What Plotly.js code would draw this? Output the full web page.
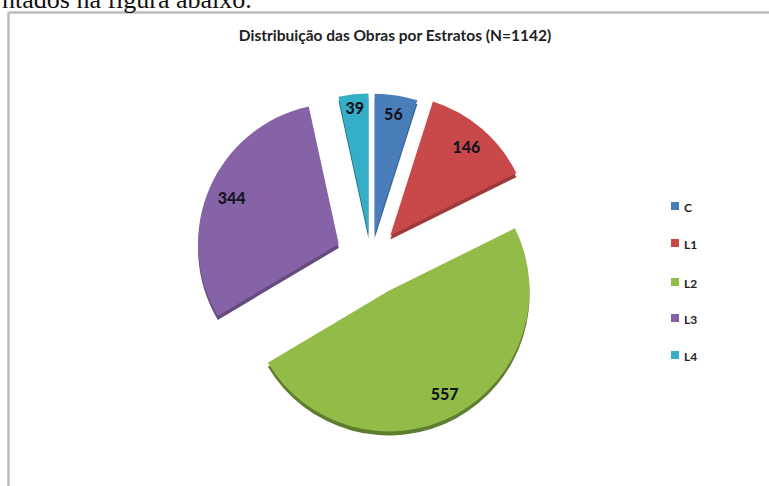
<!DOCTYPE html>
<html>
<head>
<meta charset="utf-8">
<script src="https://cdn.plot.ly/plotly-3.0.1.min.js"></script>
<style>html,body{margin:0;padding:0;background:#fff;overflow:hidden}#chart{width:769px;height:486px}</style>
</head>
<body>
<div id="chart"></div>
<script>
// Distribution of works by stratum
const categories = ['C', 'L1', 'L2', 'L3', 'L4'];
const counts = [56, 146, 557, 344, 39];
const explode = [0.17, 0.21, 0.265, 0.25, 0.17];
const faceColors = ['#4a7ebb', '#c9494a', '#92bb47', '#8663a6', '#35aec8'];
const sideColors = ['#3a6496', '#9e3a3a', '#5f7d2e', '#664b80', '#1f6f80'];
const noFill = categories.map(() => 'rgba(0,0,0,0)');

const W = 769, H = 486;
const cx = 371, cy = 258, half = 178;

function pieTrace(colors, dy, hole, showText) {
  return {
    type: 'pie', labels: categories, values: counts, sort: false,
    direction: 'clockwise', rotation: 0, pull: explode, hole: hole,
    marker: {colors: colors, line: {width: 0}},
    domain: {x: [(cx - half) / W, (cx + half) / W],
             y: [1 - (cy + dy + half) / H, 1 - (cy + dy - half) / H]},
    showlegend: false, hoverinfo: 'label+value',
    textinfo: showText ? 'value' : 'none',
    textposition: 'inside', insidetextorientation: 'horizontal',
    textfont: {family: 'Lato, sans-serif', size: 16, color: '#15151f', weight: 900}
  };
}

// Legend rows and the surrounding frame sit in paper coordinates
const legendY = [206, 243, 282, 318, 355];
const frameColor = '#bcbcbc';
const shapes = [
  {type: 'line', xref: 'paper', yref: 'paper', x0: 8.5 / W, x1: 8.5 / W, y0: 0, y1: 1 - 12.5 / H,
   line: {color: frameColor, width: 2.5}},
  {type: 'line', xref: 'paper', yref: 'paper', x0: 8.5 / W, x1: 1, y0: 1 - 12.5 / H, y1: 1 - 12.5 / H,
   line: {color: frameColor, width: 2.5}}
];
const annotations = [{
  text: 'ntados na figura abaixo.', xref: 'paper', yref: 'paper', x: 0, y: 1 + 17 / H,
  xanchor: 'left', yanchor: 'top', showarrow: false,
  font: {family: 'Liberation Serif, serif', size: 26, color: '#111'}
}];
categories.forEach((name, i) => {
  shapes.push({type: 'rect', xref: 'paper', yref: 'paper',
    x0: 671 / W, x1: 679 / W, y0: 1 - (legendY[i] + 4) / H, y1: 1 - (legendY[i] - 4) / H,
    fillcolor: faceColors[i], line: {width: 0}});
  annotations.push({text: '<b>' + name + '</b>', xref: 'paper', yref: 'paper',
    x: 682 / W, y: 1 - (legendY[i] + 1) / H, xanchor: 'left', yanchor: 'middle',
    showarrow: false, font: {family: 'Lato, sans-serif', size: 12, color: '#222'}});
});

// Rim, face, and a clear ring that carries the value labels near the outer edge
const traces = [
  pieTrace(sideColors, 4, 0, false),
  pieTrace(faceColors, 0, 0, false),
  pieTrace(noFill, 0, 0.66, true)
];

Plotly.newPlot('chart', traces, {
  width: W, height: H,
  paper_bgcolor: '#fff',
  margin: {l: 0, r: 0, t: 0, b: 0},
  title: {text: '<b>Distribuição das Obras por Estratos (N=1142)</b>',
          x: 395 / W, xanchor: 'center', y: 1 - 36 / H, yanchor: 'middle',
          font: {family: 'Lato, sans-serif', size: 15.5, color: '#222'}},
  shapes: shapes, annotations: annotations, showlegend: false
}, {displayModeBar: false, staticPlot: true});
</script>
</body>
</html>
